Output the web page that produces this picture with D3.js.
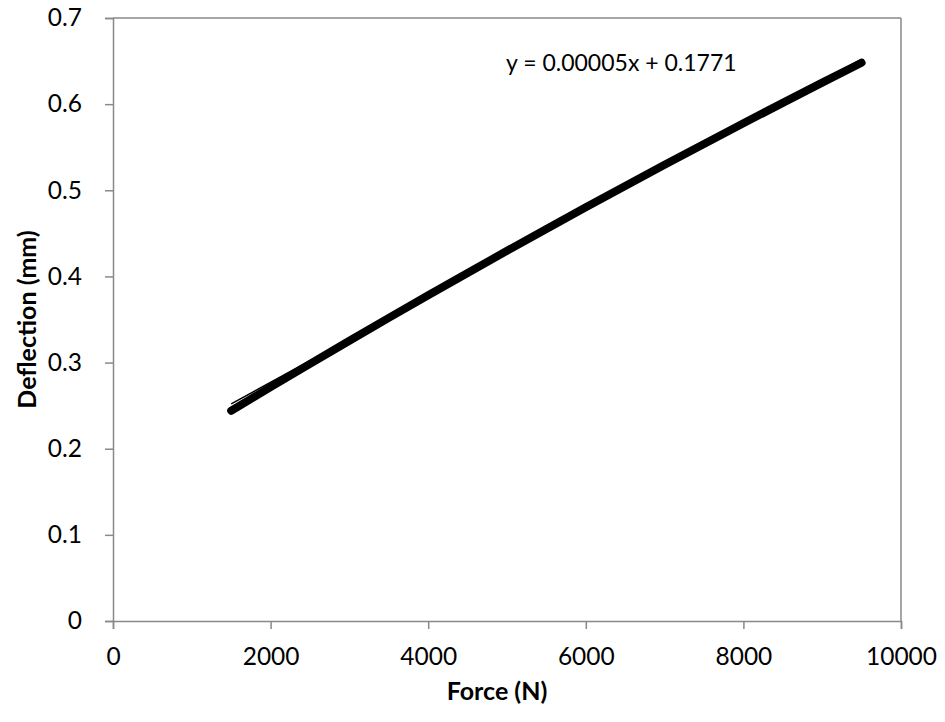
<!DOCTYPE html>
<html><head><meta charset="utf-8">
<script src="https://cdn.jsdelivr.net/npm/d3@7"></script>
<style>body{margin:0;background:#fff}svg{display:block}text{font-family:Lato,"Open Sans",sans-serif}</style>
</head><body>
<svg id="c" width="945" height="722"></svg>
<script>
const force = [1500,2000,2500,3000,3500,4000,4500,5000,5500,6000,6500,7000,7500,8000,8500,9000,9500];
const deflection = [0.2441,0.2715,0.2985,0.3253,0.3519,0.3781,0.4040,0.4297,0.4551,0.4802,0.5050,0.5296,0.5538,0.5778,0.6015,0.6250,0.6481];
const trendSlope = 0.00005, trendIntercept = 0.1771;
const xTicks = [0,2000,4000,6000,8000,10000];
const yTicks = [0,0.1,0.2,0.3,0.4,0.5,0.6,0.7];
const equationLabel = "y = 0.00005x + 0.1771";
const xTitle = "Force (N)", yTitle = "Deflection (mm)";

const svg = d3.select("#c");
const L=113, R=901, T=18, B=621;
const x = d3.scaleLinear().domain([0,10000]).range([L,R]);
const y = d3.scaleLinear().domain([0,0.7]).range([B,T]);
const axisCol = "#898989";

svg.append("line").attr("x1",L).attr("x2",R).attr("y1",T).attr("y2",T).attr("stroke",axisCol).attr("stroke-width",1.5);
svg.append("line").attr("x1",R).attr("x2",R).attr("y1",T).attr("y2",B).attr("stroke",axisCol).attr("stroke-width",1.5);

const xa = svg.append("g").attr("transform",`translate(0,${B})`)
  .call(d3.axisBottom(x).tickValues(xTicks).tickSize(8).tickPadding(19).tickFormat(d3.format("d")));
const ya = svg.append("g").attr("transform",`translate(${L},0)`)
  .call(d3.axisLeft(y).tickValues(yTicks).tickSize(8).tickPadding(23).tickFormat(d=>d===0?"0":d3.format(".1f")(d)));
[xa,ya].forEach(g=>{
  g.selectAll("path,line").attr("stroke",axisCol).attr("stroke-width",1.5);
  g.selectAll("text").attr("font-size",24.5).attr("fill","#000").attr("font-family","Lato");
});

const line = d3.line().x((d,i)=>x(force[i])).y(d=>y(d));
svg.append("path").datum(deflection).attr("d",line).attr("fill","none")
  .attr("stroke","#000").attr("stroke-width",8).attr("stroke-linecap","round").attr("stroke-linejoin","round");

const x0=d3.min(force), x1=d3.max(force);
svg.append("line").attr("x1",x(x0)).attr("y1",y(trendSlope*x0+trendIntercept))
  .attr("x2",x(x1)).attr("y2",y(trendSlope*x1+trendIntercept)).attr("stroke","#000").attr("stroke-width",1.5);

svg.append("text").attr("x",506).attr("y",71).attr("font-size",23).text(equationLabel);

svg.append("text").attr("x",497).attr("y",700).attr("text-anchor","middle")
  .attr("font-size",25).attr("font-weight","bold").text(xTitle);
svg.append("text").attr("transform",`translate(36,${(T+B)/2}) rotate(-90)`).attr("text-anchor","middle")
  .attr("font-size",25).attr("font-weight","bold").text(yTitle);
</script>
</body></html>
